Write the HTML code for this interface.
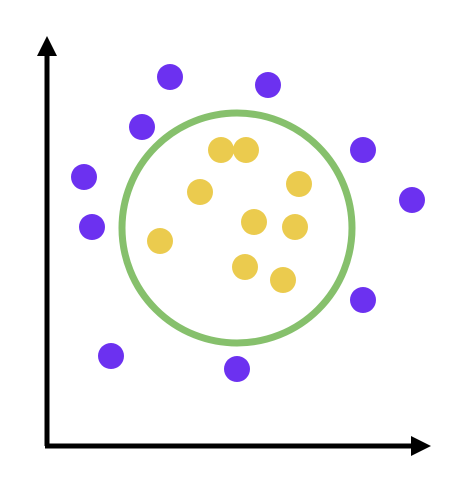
<!DOCTYPE html>
<html><head><meta charset="utf-8"><style>html,body{margin:0;padding:0;background:#fff;width:467px;height:494px;overflow:hidden}</style></head>
<body>
<svg id="chart" width="467" height="494" xmlns="http://www.w3.org/2000/svg">
<g id="marks"></g>
<line x1="47" y1="446" x2="47" y2="52" stroke="#000" stroke-width="5"/>
<polygon points="47,36 37,56 57,56" fill="#000"/>
<line x1="45" y1="446" x2="414" y2="446" stroke="#000" stroke-width="5"/>
<polygon points="431,446 411,436 411,456" fill="#000"/>
</svg>
<script>
// data coordinates: x from y-axis, y up from x-axis
const outerX = [123, 221, 95, 316, 37, 365, 45, 316, 64, 190];
const outerY = [369, 361, 319, 296, 269, 246, 219, 146, 90, 77];
const innerX = [174, 199, 153, 252, 207, 248, 113, 198, 236];
const innerY = [296, 296, 254, 262, 224, 219, 205, 179, 166];
const boundaryCenter = [190, 218];
const boundaryRadius = 115;

const ox = 47, oy = 446;
const sx = v => ox + v;
const sy = v => oy - v;
const g = document.getElementById('marks');
const NS = 'http://www.w3.org/2000/svg';

const c = document.createElementNS(NS, 'circle');


c.setAttribute('cx', sx(boundaryCenter[0]));
c.setAttribute('cy', sy(boundaryCenter[1]));
c.setAttribute('r', boundaryRadius);
c.setAttribute('fill', 'none');
c.setAttribute('stroke', '#86c06c');
c.setAttribute('stroke-width', '7');
g.appendChild(c);

outerX.forEach((x, i) => {
  const p = document.createElementNS(NS, 'circle');
  
  
  p.setAttribute('cx', sx(x));
  p.setAttribute('cy', sy(outerY[i]));
  p.setAttribute('r', 13);
  p.setAttribute('fill', '#6c31f0');
  g.appendChild(p);
});
innerX.forEach((x, i) => {
  const p = document.createElementNS(NS, 'circle');
  
  
  p.setAttribute('cx', sx(x));
  p.setAttribute('cy', sy(innerY[i]));
  p.setAttribute('r', 13);
  p.setAttribute('fill', '#ebcb4e');
  g.appendChild(p);
});
</script>
</body></html>
